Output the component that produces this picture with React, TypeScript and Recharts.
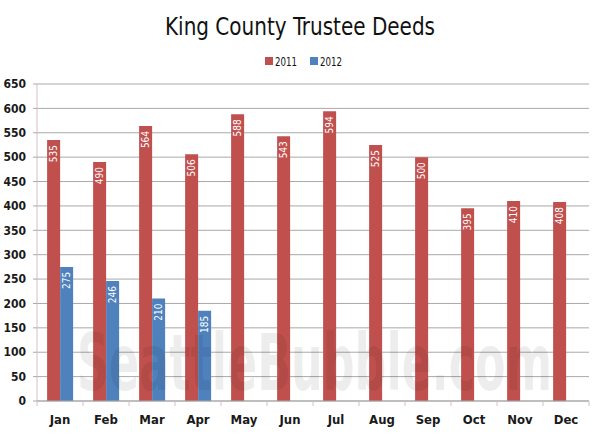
import React from 'react';
import { BarChart, Bar, XAxis, YAxis, CartesianGrid, LabelList } from 'recharts';

const months = ['Jan', 'Feb', 'Mar', 'Apr', 'May', 'Jun', 'Jul', 'Aug', 'Sep', 'Oct', 'Nov', 'Dec'];
const deeds2011 = [535, 490, 564, 506, 588, 543, 594, 525, 500, 395, 410, 408];
const deeds2012: (number | null)[] = [275, 246, 210, 185, null, null, null, null, null, null, null, null];
const yTicks = [0, 50, 100, 150, 200, 250, 300, 350, 400, 450, 500, 550, 600, 650];

const data = months.map((m, i) => ({ month: m, y2011: deeds2011[i], y2012: deeds2012[i] }));

const W = 600;
const H = 436;
const M_LEFT = 0;
const Y_W = 37;
const M_RIGHT = 11;
const BAND = (W - M_LEFT - Y_W - M_RIGHT) / months.length;

const FONT = "'DejaVu Sans Condensed', 'Liberation Sans Narrow', sans-serif";
const RED = '#C0504D';
const BLUE = '#4F81BD';

const XTick = (props: any) => {
  const { x, y, payload, index } = props;
  const tickColor = '#d6bccb';
  return (
    <g>
      <line x1={x - BAND / 2} x2={x - BAND / 2} y1={y} y2={y + 5} stroke={tickColor} />
      {index === months.length - 1 && (
        <line x1={x + BAND / 2} x2={x + BAND / 2} y1={y} y2={y + 5} stroke={tickColor} />
      )}
      <text x={x} y={y + 23} textAnchor="middle" fontFamily={FONT} fontWeight="bold" fontSize={13} fill="#1a1a1a">
        {payload.value}
      </text>
    </g>
  );
};

const BarLabel = (props: any) => {
  const { x, y, width, value } = props;
  if (value === null || value === undefined) return null;
  const cx = x + width / 2;
  const cy = y + 5;
  return (
    <text
      x={cx}
      y={cy}
      transform={`rotate(-90 ${cx} ${cy})`}
      textAnchor="end"
      dominantBaseline="central"
      fontFamily={FONT}
      fontSize={10}
      fill="#ffffff"
    >
      {value}
    </text>
  );
};

export default function App() {
  return (
    <div style={{ position: 'absolute', left: 0, top: 0, width: W, height: H, background: '#fff' }}>
      <BarChart
        width={W}
        height={H}
        data={data}
        margin={{ top: 84, right: M_RIGHT, left: M_LEFT, bottom: 5 }}
        barCategoryGap="22%"
        barGap={0}
      >
        <CartesianGrid horizontal vertical={false} stroke="#a9a9a9" />
        <YAxis
          width={Y_W}
          domain={[0, 650]}
          ticks={yTicks}
          interval={0}
          tickSize={4}
          tickMargin={7}
          axisLine={{ stroke: '#d6bccb' }}
          tickLine={{ stroke: '#a9a9a9' }}
          tick={{ fontFamily: FONT, fontWeight: 'bold', fontSize: 12, fill: '#1a1a1a' }}
        />
        <XAxis
          dataKey="month"
          height={30}
          interval={0}
          tickSize={0}
          tickMargin={0}
          tickLine={false}
          axisLine={{ stroke: '#a9a9a9' }}
          tick={<XTick />}
        />
        <Bar dataKey="y2011" fill={RED} isAnimationActive={false}>
          <LabelList dataKey="y2011" content={<BarLabel />} />
        </Bar>
        <Bar dataKey="y2012" fill={BLUE} isAnimationActive={false}>
          <LabelList dataKey="y2012" content={<BarLabel />} />
        </Bar>
      </BarChart>
      <svg
        width={W}
        height={H}
        style={{ position: 'absolute', left: 0, top: 0, pointerEvents: 'none' }}
      >
        <text
          x={77}
          y={390}
          textLength={475}
          lengthAdjust="spacingAndGlyphs"
          fontFamily={FONT}
          fontWeight="bold"
          fontSize={78}
          fill="#000"
          fillOpacity={0.07}
        >
          SeattleBubble.com
        </text>
        <text
          x={165}
          y={35}
          textLength={270}
          lengthAdjust="spacingAndGlyphs"
          fontFamily={FONT}
          fontSize={25}
          fill="#111"
        >
          King County Trustee Deeds
        </text>
        <rect x={265} y={57} width={8} height={8} fill={RED} />
        <text x={275} y={65.5} textLength={22} lengthAdjust="spacingAndGlyphs" fontFamily={FONT} fontSize={13} fill="#111">2011</text>
        <rect x={310} y={57} width={8} height={8} fill={BLUE} />
        <text x={320} y={65.5} textLength={22} lengthAdjust="spacingAndGlyphs" fontFamily={FONT} fontSize={13} fill="#111">2012</text>
      </svg>
    </div>
  );
}
